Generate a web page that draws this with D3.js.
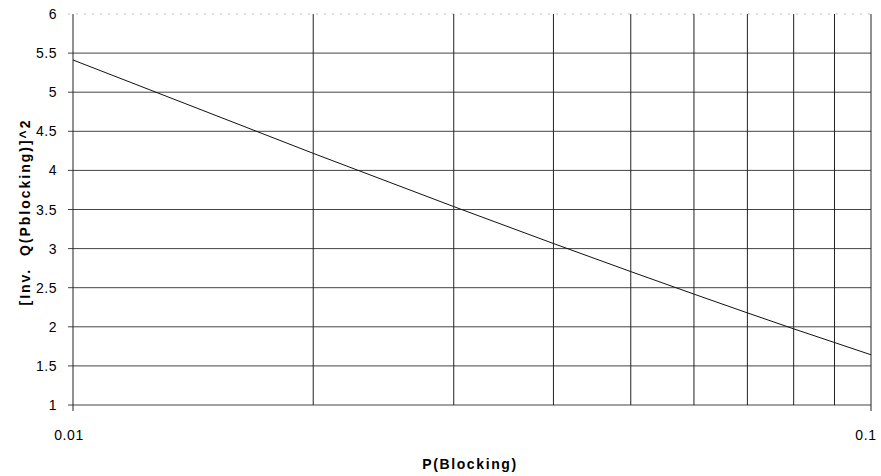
<!DOCTYPE html>
<html><head><meta charset="utf-8">
<script src="https://cdn.jsdelivr.net/npm/d3@7"></script>
<style>body{margin:0;background:#fff}svg{display:block}text{font-family:"Liberation Sans",Arial,sans-serif}</style>
</head><body>
<svg id="c" width="881" height="476"></svg>
<script>
const pBlocking = [0.01,0.02,0.03,0.04,0.05,0.06,0.07,0.08,0.09,0.1];
const invQSquared = [5.412,4.218,3.537,3.065,2.706,2.418,2.178,1.974,1.799,1.642];
const yTicks = [1,1.5,2,2.5,3,3.5,4,4.5,5,5.5,6];
const xGrid = [0.01,0.02,0.03,0.04,0.05,0.06,0.07,0.08,0.09,0.1];
const xTickLabels = [0.01,0.1];

const svg = d3.select('#c');
const L=73,R=871,T=14,B=405;
const x = d3.scaleLog().domain([0.01,0.1]).range([L,R]);
const y = d3.scaleLinear().domain([1,6]).range([B,T]);

function fitText(sel, target){
  const n = sel.text().length;
  const w = sel.node().getComputedTextLength();
  sel.attr('letter-spacing', ((target - w)/(n-1)).toFixed(2));
}

// horizontal gridlines
svg.append('g').selectAll('line').data(yTicks).join('line')
  .attr('x1',L-5).attr('x2',R).attr('y1',d=>y(d)).attr('y2',d=>y(d))
  .attr('stroke',d=>d===6?'#bbb':'#444').attr('stroke-width',1)
  .attr('stroke-dasharray',d=>d===6?'2,6':null);
// vertical gridlines
svg.append('g').selectAll('line').data(xGrid).join('line')
  .attr('x1',d=>x(d)).attr('x2',d=>x(d)).attr('y1',T).attr('y2',d=>(d===0.01||d===0.1)?B+6:B)
  .attr('stroke','#222').attr('stroke-width',1);

// y tick labels
svg.append('g').selectAll('text').data(yTicks).join('text')
  .attr('x',57).attr('y',d=>y(d)).attr('dy','0.36em').attr('text-anchor','end')
  .attr('font-size',14).attr('letter-spacing',0.5).attr('fill','#000').text(d=>d);
// x tick labels
svg.append('g').selectAll('text').data(xTickLabels).join('text')
  .attr('x',d=>d===0.01?x(d)-4:x(d)-5).attr('y',440).attr('text-anchor','middle')
  .attr('font-size',14).attr('letter-spacing',0.6).attr('fill','#000').text(d=>d);

// line
svg.append('path').datum(pBlocking.map((p,i)=>[p,invQSquared[i]]))
  .attr('fill','none').attr('stroke','#111').attr('stroke-width',1)
  .attr('d',d3.line().x(d=>x(d[0])).y(d=>y(d[1])));

// axis titles
const xt = svg.append('text').attr('x',470).attr('y',469).attr('text-anchor','middle')
  .attr('font-size',14).attr('font-weight','bold').attr('fill','#000').text('P(Blocking)');
fitText(xt, 94);
const yt = svg.append('text').attr('transform','translate(30,212) rotate(-90)').attr('text-anchor','middle')
  .attr('font-size',14).attr('font-weight','bold').attr('fill','#000').attr('xml:space','preserve').text('[Inv.  Q(Pblocking)]^2');
fitText(yt, 185);
</script>
</body></html>
